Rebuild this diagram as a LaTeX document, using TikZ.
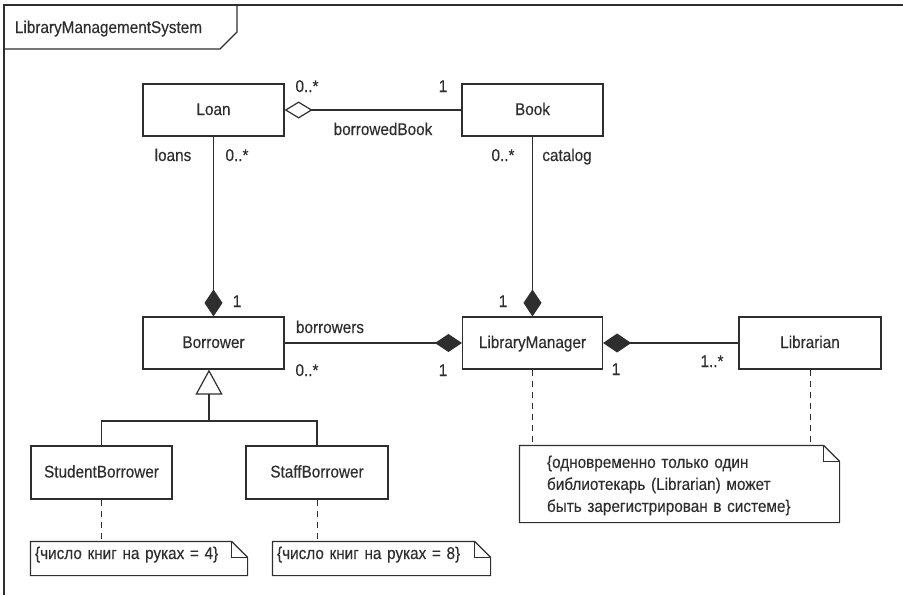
\documentclass[tikz,border=0pt]{standalone}
\usepackage{fontspec}
\setmainfont{Liberation Sans}[FakeStretch=0.9,FakeBold=0.3]
\usetikzlibrary{arrows.meta}
\newcommand{\dfont}{\fontsize{17}{22}\selectfont}
\begin{document}
\begin{tikzpicture}[x=1pt,y=-1pt,line width=1.2pt,color=black!82,
  cls/.style={draw, rectangle, minimum width=141pt, minimum height=52pt,
    text height=12pt, text depth=2pt, inner sep=0pt, font=\dfont},
  lbl/.style={anchor=base, inner sep=0pt, font=\dfont},
  notebox/.style={draw=none, rectangle, align=left, inner ysep=0pt, font=\dfont},
  dashline/.style={dash pattern=on 6pt off 5pt, line width=1pt},
  comp/.style={-{Diamond[length=27pt,width=18pt]}},
  aggr/.style={-{Diamond[open,length=28pt,width=17pt]}},
  gen/.style={-{Triangle[open,length=25pt,width=27pt]}}]
\useasboundingbox (0,0) rectangle (903,595);
% frame
\draw (903,5) -- (4,5) -- (4,595);
\draw (4,49) -- (220,49) -- (237,32) -- (237,5);
\node[lbl] (title) at (108.5,33) {LibraryManagementSystem};
% classes
\node[cls] (Loan) at (213.5,110) {Loan};
\node[cls] (Book) at (532.5,110) {Book};
\node[cls] (Borrower) at (213.5,343) {Borrower};
\node[cls,minimum width=140pt] (LM) at (532.5,343) {LibraryManager};
\node[cls,minimum width=142pt] (Librarian) at (810,343) {Librarian};
\node[cls,minimum height=53pt] (Student) at (101.5,472.5) {StudentBorrower};
\node[cls,minimum width=142pt,minimum height=53pt] (Staff) at (317,472.5) {StaffBorrower};
% notes
\node[notebox, text width=208pt, inner xsep=4pt, minimum height=33pt,
  text height=6pt, text depth=5pt] (n1) at (139,558.5) {\{число книг на руках = 4\}};
\node[notebox, text width=209pt, inner xsep=4pt, minimum height=33pt,
  text height=6pt, text depth=5pt] (n2) at (381.5,558.5) {\{число книг на руках = 8\}};
\node[notebox, text width=265pt, inner xsep=27pt, minimum height=76pt] (n3) at (679.5,485.5)
  {\{одновременно только один\\библиотекарь (Librarian) может\\быть зарегистрирован в системе\}};
\path (n3.north) ++(0,-1.5) coordinate (n3top);
\foreach \n/\f in {n1/16pt,n2/16pt}{
  \draw (\n.north west) -- ([xshift=-\f]\n.north east) -- ([yshift=-\f]\n.north east)
    -- (\n.south east) -- (\n.south west) -- cycle;
  \draw ([xshift=-\f]\n.north east) |- ([yshift=-\f]\n.north east);
}
\draw ([yshift=1.5pt]n3.north west) -- ([xshift=-16pt,yshift=1.5pt]n3.north east)
  -- ([yshift=-14.5pt]n3.north east) -- ([yshift=1.5pt]n3.south east)
  -- ([yshift=1.5pt]n3.south west) -- cycle;
\draw ([xshift=-16pt,yshift=1.5pt]n3.north east) |- ([yshift=-14.5pt]n3.north east);
% associations
\draw[aggr] (Book.west) -- (Loan.east);
\draw[comp] (Loan.south) -- (Borrower.north);
\draw[comp] (Book.south) -- (LM.north);
\draw[comp] (Borrower.east) -- (LM.west);
\draw[-{Diamond[length=28pt,width=19pt]}] (Librarian.west) -- (LM.east);
% generalization
\coordinate (jn) at (209,421);
\draw[gen] (jn) -- (jn |- Borrower.south);
\draw (Student.north) |- (jn) -| (Staff.north);
% note anchors
\draw[dashline] (Student.south) -- (Student.south |- n1.north);
\draw[dashline] (Staff.south) -- (Staff.south |- n2.north);
\draw[dashline] (LM.south) -- (LM.south |- n3top);
\draw[dashline] (Librarian.south) -- (Librarian.south |- n3top);
% labels
\node[lbl] (m1) at (307,92) {0..*};
\node[lbl] (m2) at (443,92) {1};
\node[lbl] (r1) at (383,135) {borrowedBook};
\node[lbl] (r2) at (173,161) {loans};
\node[lbl] (m3) at (237,161) {0..*};
\node[lbl] (m4) at (503,161) {0..*};
\node[lbl] (r3) at (567,161) {catalog};
\node[lbl] (m5) at (237,307) {1};
\node[lbl] (m6) at (503,307) {1};
\node[lbl] (r4) at (330,333) {borrowers};
\node[lbl] (m7) at (307,376) {0..*};
\node[lbl] (m8) at (443,376) {1};
\node[lbl] (m9) at (616,375) {1};
\node[lbl] (m10) at (712,367) {1..*};
\end{tikzpicture}
\end{document}
